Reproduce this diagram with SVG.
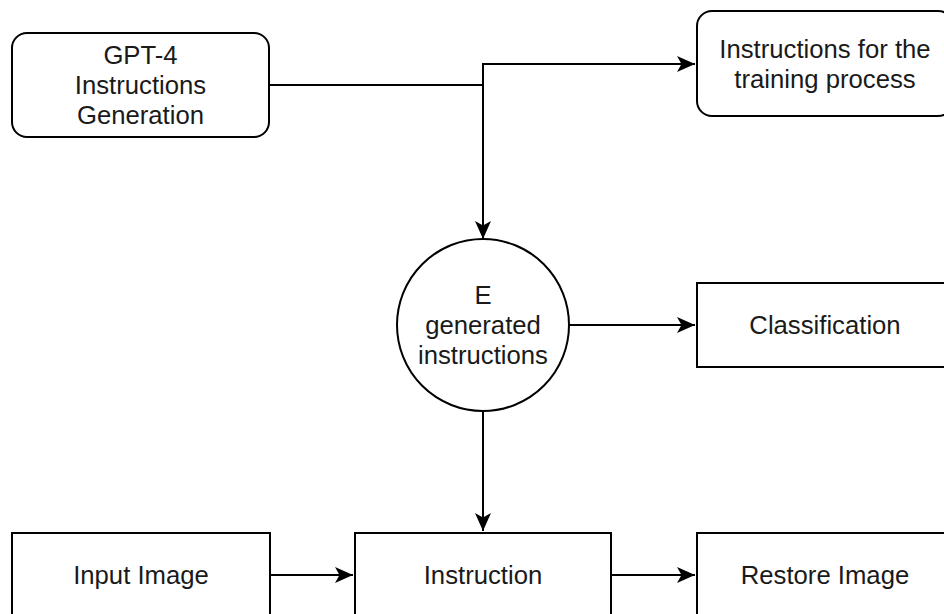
<svg xmlns="http://www.w3.org/2000/svg" width="944" height="614" viewBox="0 0 944 614">
<style>
.n{fill:#fff;stroke:#000;stroke-width:2}
.t{font-family:"Liberation Sans",Arial,sans-serif;font-size:25.7px;fill:#1a1a1a;text-anchor:middle;dominant-baseline:central}
.c{fill:none;stroke:#000;stroke-width:2}
</style>
<defs>
<marker id="a" viewBox="-19 -9 20 18" refX="0" refY="0" markerWidth="20" markerHeight="18" markerUnits="userSpaceOnUse" orient="auto">
<path d="M0,0 L-18,-8 L-13.5,0 L-18,8 Z" fill="#000"/>
</marker>
</defs>
<rect width="944" height="614" fill="#fff"/>
<g id="connectors">
<path class="c" d="M269,85 H483 V64 H695" marker-end="url(#a)"/>
<path class="c" d="M483,85 V239" marker-end="url(#a)"/>
<path class="c" d="M569,325 H695" marker-end="url(#a)"/>
<path class="c" d="M483,409 V531" marker-end="url(#a)"/>
<path class="c" d="M270,575 H353" marker-end="url(#a)"/>
<path class="c" d="M611,575 H695" marker-end="url(#a)"/>
</g>
<g id="gpt4">
<rect class="n" x="12" y="33" width="257" height="104" rx="15"/>
<text class="t" x="140.5" y="55">GPT-4</text>
<text class="t" x="140.5" y="85">Instructions</text>
<text class="t" x="140.5" y="115">Generation</text>
</g>
<g id="training">
<rect class="n" x="697" y="11" width="256" height="105" rx="15"/>
<text class="t" x="825" y="48.5">Instructions for the</text>
<text class="t" x="825" y="79">training process</text>
</g>
<g id="generated">
<circle class="n" cx="483" cy="325" r="86"/>
<text class="t" x="483" y="295">E</text>
<text class="t" x="483" y="325">generated</text>
<text class="t" x="483" y="355">instructions</text>
</g>
<g id="classification">
<rect class="n" x="697" y="283" width="256" height="84"/>
<text class="t" x="825" y="325">Classification</text>
</g>
<g id="input">
<rect class="n" x="12" y="533" width="258" height="84"/>
<text class="t" x="141" y="575">Input Image</text>
</g>
<g id="instruction">
<rect class="n" x="355" y="533" width="256" height="84"/>
<text class="t" x="483" y="575">Instruction</text>
</g>
<g id="restore">
<rect class="n" x="697" y="533" width="256" height="84"/>
<text class="t" x="825" y="575">Restore Image</text>
</g>
</svg>
